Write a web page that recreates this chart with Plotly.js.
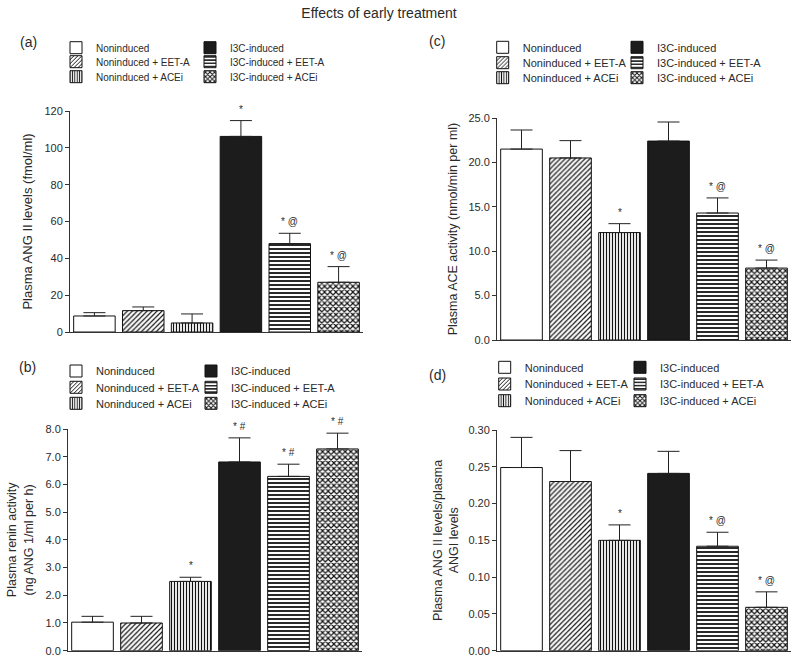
<!DOCTYPE html>
<html>
<head>
<meta charset="utf-8">
<script src="https://cdn.plot.ly/plotly-3.0.1.min.js"></script>
<style>html,body{margin:0;padding:0;background:#fff;}#chart{width:800px;height:662px;}</style>
</head>
<body>
<div id="chart"></div>
<script>
// ---------- data ----------
var groups = ["Noninduced", "Noninduced + EET-A", "Noninduced + ACEi",
              "I3C-induced", "I3C-induced + EET-A", "I3C-induced + ACEi"];

// (a) Plasma ANG II levels (fmol/ml)
var angMean = [8.7, 11.6, 4.9, 106.2, 48.0, 27.0];
var angSem  = [1.8, 2.0, 4.9, 8.6, 5.6, 8.5];
var angSig  = ["", "", "", "*", "* @", "* @"];

// (b) Plasma renin activity (ng ANG 1/ml per h)
var reninMean = [1.03, 1.00, 2.50, 6.81, 6.29, 7.28];
var reninSem  = [0.21, 0.24, 0.15, 0.87, 0.44, 0.57];
var reninSig  = ["", "", "*", "* #", "* #", "* #"];

// (c) Plasma ACE activity (nmol/min per ml)
var aceMean = [21.5, 20.5, 12.1, 22.4, 14.3, 8.1];
var aceSem  = [2.15, 1.95, 1.0, 2.15, 1.7, 0.9];
var aceSig  = ["", "", "*", "", "* @", "* @"];

// (d) Plasma ANG II / ANG I ratio
var ratioMean = [0.249, 0.230, 0.150, 0.241, 0.142, 0.059];
var ratioSem  = [0.041, 0.042, 0.021, 0.030, 0.019, 0.021];
var ratioSig  = ["", "", "*", "", "* @", "* @"];

// ---------- styling ----------
var W = 800, H = 662;
var FONT = "Liberation Sans, Arial, sans-serif";
var TXT = "#2a2a2a";
function px(x) { return x / W; }
function py(y) { return (H - y) / H; }

var fills = [
  {color: "#ffffff"},
  {color: "#ffffff", pattern: {shape: "/", fgcolor: "#111", bgcolor: "#fff", size: 3.5, solidity: 0.35}},
  {color: "#ffffff", pattern: {shape: "|", fgcolor: "#111", bgcolor: "#fff", size: 3, solidity: 0.4}},
  {color: "#1c1c1c"},
  {color: "#ffffff", pattern: {shape: "-", fgcolor: "#111", bgcolor: "#fff", size: 4, solidity: 0.45}},
  {color: "#ffffff", pattern: {shape: "x", fgcolor: "#111", bgcolor: "#fff", size: 4, solidity: 0.5}}
];

var panels = [
  {mean: angMean, sem: angSem, sig: angSig, xa: "x", ya: "y",
   legText: [96, 230], legRows: [47.7, 61.7, 76.7], legFont: 10},
  {mean: reninMean, sem: reninSem, sig: reninSig, xa: "x2", ya: "y2",
   legText: [96, 231], legRows: [371, 387.3, 403.3], legFont: 11},
  {mean: aceMean, sem: aceSem, sig: aceSig, xa: "x3", ya: "y3",
   legText: [522.7, 657], legRows: [47.3, 62.7, 77.7], legFont: 11},
  {mean: ratioMean, sem: ratioSem, sig: ratioSig, xa: "x4", ya: "y4",
   legText: [524.7, 660], legRows: [367.3, 384, 400.7], legFont: 11}
];

// right-column groups first, so their legends are drawn first and left-column text stays on top
var drawOrder = [3, 4, 5, 0, 1, 2];

var traces = [];
var layout = {
  width: W, height: H,
  margin: {l: 0, r: 0, t: 0, b: 0},
  paper_bgcolor: "#fff", plot_bgcolor: "#fff",
  font: {family: FONT, color: TXT, size: 11},
  barmode: "overlay",
  showlegend: true,
  title: {text: "Effects of early treatment", x: px(379), xanchor: "center",
          y: py(13), yanchor: "middle", yref: "paper", font: {size: 14, color: TXT}},
  annotations: []
};

var legCount = 0;
panels.forEach(function (p) {
  drawOrder.forEach(function (g) {
    var col = g < 3 ? 0 : 1;
    var row = g % 3;
    legCount++;
    var legKey = legCount === 1 ? "legend" : "legend" + legCount;
    var f = fills[g];
    var marker = {color: f.color, line: {color: "#111", width: 1}};
    if (f.pattern) marker.pattern = f.pattern;
    traces.push({
      type: "bar",
      name: groups[g],
      x: [groups[g]],
      y: [p.mean[g]],
      width: 0.85,
      xaxis: p.xa, yaxis: p.ya,
      legend: legKey,
      marker: marker,
      error_y: {type: "data", symmetric: false, array: [p.sem[g]], arrayminus: [0],
                color: "#222", thickness: 1, width: 11},
      hoverinfo: "skip"
    });
    layout[legKey] = {
      x: px(p.legText[col] - 40), xanchor: "left",
      y: py(p.legRows[row]), yanchor: "middle",
      bgcolor: "rgba(255,255,255,0)", borderwidth: 0,
      font: {size: p.legFont, color: TXT, family: FONT},
      itemclick: false, itemdoubleclick: false
    };
    if (p.sig[g]) {
      layout.annotations.push({
        xref: p.xa, yref: p.ya, x: groups[g], y: p.mean[g] + p.sem[g],
        text: p.sig[g], showarrow: false, yanchor: "bottom", yshift: 4,
        font: {size: 10, color: TXT}
      });
    }
  });
});

function xax(domain) {
  return {domain: domain, type: "category", categoryorder: "array", categoryarray: groups,
          showticklabels: false, ticks: "", showline: true, linecolor: "#333", linewidth: 1,
          showgrid: false, zeroline: false, fixedrange: true};
}
function yax(domain, range, dtick, fmt, titleText, titleSize, standoff, anchor) {
  return {domain: domain, range: range, dtick: dtick, tick0: 0, tickformat: fmt,
          ticks: "outside", ticklen: 4, tickwidth: 1, tickcolor: "#333",
          showline: true, linecolor: "#333", linewidth: 1, showgrid: false, zeroline: false,
          tickfont: {size: 11, color: TXT}, anchor: anchor,
          title: {text: titleText, font: {size: titleSize, color: TXT}, standoff: standoff},
          fixedrange: true};
}

layout.xaxis  = xax([px(70), px(363)]);  layout.xaxis.anchor = "y";
layout.xaxis2 = xax([px(68), px(362)]);  layout.xaxis2.anchor = "y2";
layout.xaxis3 = xax([px(497), px(791)]); layout.xaxis3.anchor = "y3";
layout.xaxis4 = xax([px(497), px(791)]); layout.xaxis4.anchor = "y4";

layout.yaxis  = yax([py(332), py(111)], [0, 120], 20, "d",
                    "Plasma ANG II levels (fmol/ml)", 13, 8, "x");
layout.yaxis2 = yax([py(650.7), py(429)], [0, 8], 1, ".1f",
                    "Plasma renin activity<br>(ng ANG 1/ml per h)", 12.5, 9, "x2");
layout.yaxis3 = yax([py(340), py(118)], [0, 25], 5, ".1f",
                    "Plasma ACE activity (nmol/min per ml)", 12.5, 8, "x3");
layout.yaxis4 = yax([py(650.7), py(430)], [0, 0.30], 0.05, ".2f",
                    "Plasma ANG II levels/plasma<br>ANGI levels", 12.5, 6, "x4");

var panelLabels = [["(a)", 18, 41.7], ["(b)", 17, 366.7], ["(c)", 427, 41], ["(d)", 427, 375]];
panelLabels.forEach(function (l) {
  layout.annotations.push({xref: "paper", yref: "paper", x: px(l[1]), y: py(l[2]),
    xanchor: "left", yanchor: "middle", text: l[0], showarrow: false,
    font: {size: 14, color: TXT}});
});

Plotly.newPlot("chart", traces, layout, {displayModeBar: false, staticPlot: true});
</script>
</body>
</html>
